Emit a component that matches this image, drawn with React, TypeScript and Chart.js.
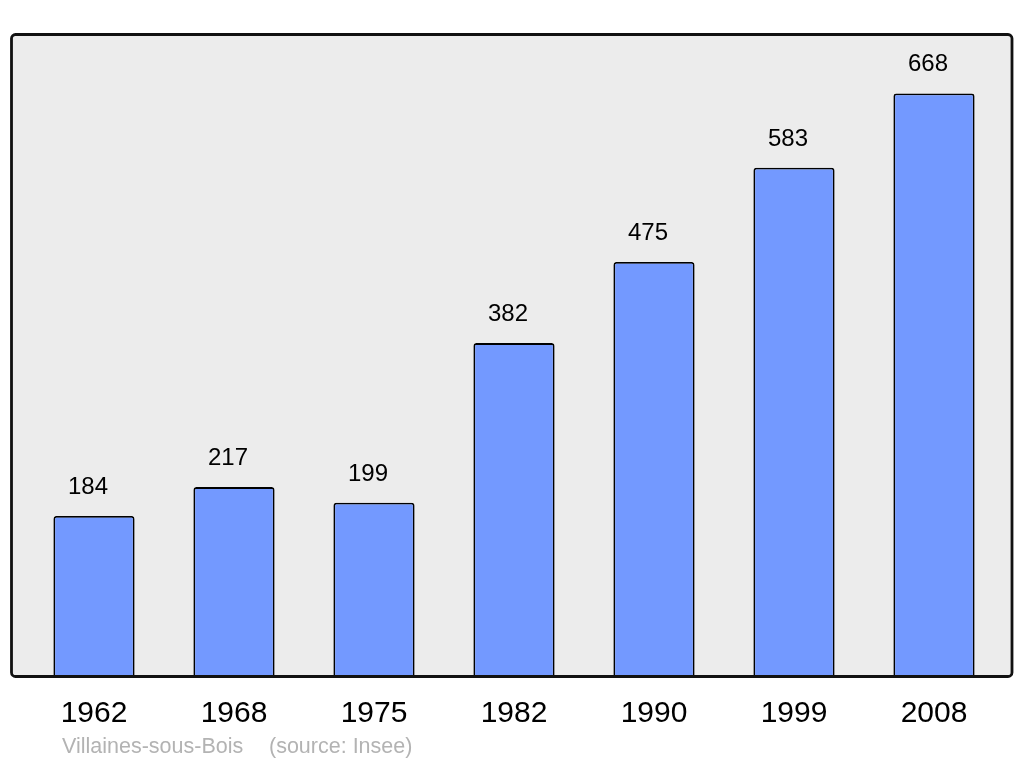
import React, { useEffect, useRef } from "react";
import { Chart, registerables } from "chart.js";

Chart.register(...registerables);

const years = ["1962", "1968", "1975", "1982", "1990", "1999", "2008"];
const population = [184, 217, 199, 382, 475, 583, 668];
const yMax = 735;
const sourceName = "Villaines-sous-Bois";
const sourceRef = "(source: Insee)";

const FONT = "'Liberation Sans', Arial, sans-serif";

const panelPlugin = {
  id: "panel",
  beforeDatasetsDraw(chart: any) {
    const { ctx, chartArea } = chart;
    const x = 11.5;
    const y = chartArea.top - 0.5;
    const w = 1012 - x;
    const h = chartArea.bottom - y;
    ctx.save();
    ctx.fillStyle = "#ececec";
    ctx.beginPath();
    ctx.roundRect(x, y, w, h, 4);
    ctx.fill();
    ctx.restore();
  },
  afterDatasetsDraw(chart: any) {
    const { ctx, chartArea } = chart;
    const x = 11.5;
    const y = chartArea.top - 0.5;
    const w = 1012 - x;
    const h = chartArea.bottom - y;
    ctx.save();
    const meta = chart.getDatasetMeta(0);
    ctx.fillStyle = "#000";
    ctx.font = `24px ${FONT}`;
    ctx.textAlign = "center";
    ctx.textBaseline = "alphabetic";
    meta.data.forEach((bar: any, i: number) => {
      ctx.fillText(String(population[i]), bar.x - 6, bar.y - 22);
    });
    ctx.strokeStyle = "#111";
    ctx.lineWidth = 2.8;
    ctx.beginPath();
    ctx.roundRect(x, y, w, h, 4);
    ctx.stroke();
    ctx.fillStyle = "#b3b3b3";
    ctx.font = `21.5px ${FONT}`;
    ctx.textAlign = "left";
    ctx.fillText(sourceName, 62, 753);
    ctx.fillText(sourceRef, 269, 753);
    ctx.restore();
  },
};

export default function App() {
  const ref = useRef<HTMLCanvasElement>(null);
  useEffect(() => {
    if (!ref.current) return;
    const chart = new Chart(ref.current, {
      type: "bar",
      data: {
        labels: years,
        datasets: [
          {
            data: population,
            backgroundColor: "#7399ff",
            borderColor: "#000",
            borderWidth: 1.8,
            borderRadius: 3,
            borderSkipped: "bottom",
            barPercentage: 0.58,
            categoryPercentage: 1,
          },
        ],
      },
      options: {
        animation: false,
        responsive: false,
        maintainAspectRatio: false,
        layout: { padding: { left: 24, right: 20, top: 35, bottom: 22.5 } },
        plugins: { legend: { display: false }, tooltip: { enabled: false } },
        scales: {
          x: {
            grid: { display: false },
            border: { display: false },
            ticks: {
              color: "#000",
              font: { size: 30, family: FONT },
              padding: 11,
              maxRotation: 0,
            },
          },
          y: {
            display: false,
            min: 0,
            max: yMax,
          },
        },
      },
      plugins: [panelPlugin],
    });
    return () => chart.destroy();
  }, []);
  return (
    <div style={{ position: "fixed", left: 0, top: 0, width: 1024, height: 765, background: "#fff" }}>
      <canvas ref={ref} width={1024} height={765} />
    </div>
  );
}
